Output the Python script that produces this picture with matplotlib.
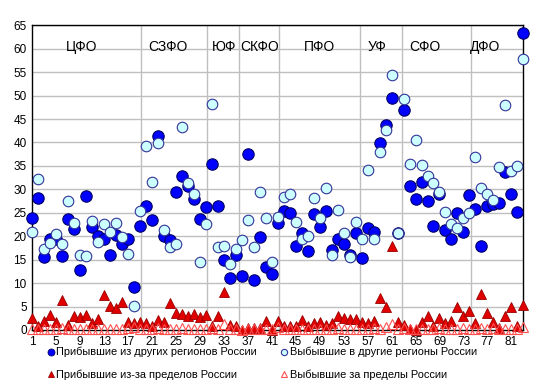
"""
Migration by region: arrivals/departures per 10 000 residents.
"""
import matplotlib.pyplot as plt
from matplotlib.lines import Line2D

plt.rcParams['font.family'] = ['Liberation Sans', 'DejaVu Sans']

regions = list(range(1, 84))

arrived_russia = [
    23.8, 28.1, 15.5, 19.4, 19.5, 15.8, 23.6, 21.5, 12.8, 28.6,
    22.0, 20.0, 19.4, 16.1, 20.2, 18.3, 19.4, 9.1, 22.2, 26.5,
    23.5, 41.4, 20.1, 19.2, 29.4, 32.8, 30.8, 27.9, 23.6, 26.2,
    35.4, 26.4, 14.9, 11.0, 16.0, 11.5, 37.5, 10.7, 19.8, 13.4,
    11.9, 22.9, 25.4, 24.9, 17.9, 20.6, 16.8, 24.7, 21.9, 25.3,
    17.1, 19.5, 18.3, 16.0, 20.6, 15.3, 21.7, 20.8, 39.9, 43.7,
    49.4, 20.6, 46.9, 30.7, 27.9, 31.6, 27.6, 22.2, 29.0, 21.3,
    19.5, 24.9, 20.8, 28.8, 25.9, 17.9, 26.4, 26.8, 27.0, 33.8,
    29.1, 25.1, 63.3,
]

left_russia = [
    20.8, 32.3, 17.2, 18.6, 20.5, 18.4, 27.5, 22.9, 16.1, 15.8,
    23.2, 18.8, 22.7, 20.8, 22.9, 19.8, 16.3, 5.2, 25.4, 39.2,
    31.5, 39.9, 21.3, 17.6, 18.3, 43.2, 31.3, 29.0, 14.4, 22.6,
    48.3, 17.6, 17.9, 14.1, 17.2, 19.2, 23.4, 17.6, 29.4, 23.8,
    14.6, 24.0, 28.4, 29.1, 23.0, 19.5, 20.0, 28.1, 23.8, 30.2,
    16.1, 25.7, 20.7, 15.6, 23.0, 19.4, 34.1, 19.4, 38.0, 42.6,
    54.4, 20.7, 49.2, 35.5, 40.5, 35.2, 32.8, 31.3, 29.5, 25.2,
    22.6, 21.7, 23.9, 25.0, 36.9, 30.2, 29.1, 27.7, 34.8, 48.1,
    34.0, 35.0, 57.9,
]

arrived_abroad = [
    2.5, 0.8, 1.9, 3.3, 1.8, 6.4, 1.1, 3.0, 2.7, 3.3,
    1.4, 2.3, 7.5, 5.2, 4.6, 6.0, 1.6, 1.4, 1.6, 1.4,
    0.9, 2.2, 1.6, 5.7, 3.7, 3.5, 2.9, 3.5, 2.8, 3.2,
    0.9, 2.9, 8.0, 1.0, 0.9, 0.0, 0.5, 0.5, 0.5, 2.0,
    0.0, 2.0, 0.8, 0.8, 0.8, 2.2, 0.8, 1.4, 1.7, 1.1,
    1.4, 2.9, 2.6, 2.3, 2.3, 1.6, 1.4, 1.9, 6.8, 4.8,
    18.0, 1.8, 1.0, 0.3, 0.1, 1.6, 3.0, 0.8, 2.5, 1.4,
    1.9, 5.0, 3.0, 4.1, 1.4, 7.6, 3.7, 1.8, 0.4, 3.0,
    5.0, 0.8, 5.3,
]

left_abroad = [
    0.2, 0.2, 0.2, 0.3, 0.2, 0.5, 0.2, 0.2, 0.2, 0.3,
    0.2, 0.2, 0.3, 0.2, 0.2, 0.3, 0.4, 0.6, 0.2, 0.3,
    0.2, 0.4, 0.2, 0.2, 0.3, 0.5, 0.2, 0.3, 0.2, 0.2,
    0.4, 0.3, 1.3, 0.2, 0.2, 0.1, 0.2, 0.2, 0.2, 0.3,
    0.2, 0.6, 0.2, 0.2, 0.2, 0.3, 0.2, 0.2, 0.3, 0.2,
    0.2, 0.4, 0.3, 0.2, 0.2, 0.3, 0.2, 0.5, 0.3, 0.6,
    1.3, 0.2, 0.4, 0.2, 0.2, 0.3, 0.2, 0.2, 0.4, 0.2,
    0.2, 0.3, 0.4, 0.2, 0.3, 0.5, 0.2, 0.4, 0.2, 0.3,
    0.2, 0.2, 0.6,
]

districts = ['ЦФО', 'СЗФО', 'ЮФ', 'СКФО', 'ПФО', 'УФ', 'СФО', 'ДФО']
district_label_x = [9.3, 23.7, 33.0, 39.0, 49.0, 58.5, 66.6, 76.6]
district_bounds = [19.1, 30.1, 35.5, 42.2, 55.8, 62.7, 74.2]

x_ticks = list(range(1, 84, 4))
y_ticks = list(range(0, 66, 5))

fig = plt.figure(figsize=(5.4, 3.89), dpi=100)
ax = fig.add_axes([0.0598, 0.1517, 0.9093, 0.7833])

# grid: horizontal every 5, vertical at district boundaries
for y in y_ticks[1:]:
    ax.axhline(y, color='#BFBFBF', lw=1.0, zorder=0)
for b in district_bounds:
    ax.axvline(b, color='#BFBFBF', lw=1.0, zorder=0)

ax.plot(regions, arrived_russia, 'o', ms=8.2, mfc='#0000FF', mec='#000066',
        mew=0.8, clip_on=False, zorder=3)
ax.plot(regions, left_russia, 'o', ms=7.6, mfc='#CCFFFF', mec='#333399',
        mew=0.8, clip_on=False, zorder=4)
ax.plot(regions, arrived_abroad, '^', ms=6.8, mfc='#E00000', mec='#990000',
        mew=0.6, clip_on=False, zorder=5)
ax.plot(regions, left_abroad, '^', ms=6.5, mfc='none', mec='#FF5050',
        mew=0.8, clip_on=False, zorder=6)

for name, xl in zip(districts, district_label_x):
    ax.text(xl, 60.3, name, ha='center', va='center', fontsize=10, color='black')

ax.set_xlim(1, 83)
ax.set_ylim(0, 65)
ax.set_xticks(x_ticks)
ax.set_yticks(y_ticks)
ax.tick_params(length=0, labelsize=8.5, pad=4)
for s in ax.spines.values():
    s.set_color('black')
    s.set_linewidth(1.0)

handles = [
    Line2D([], [], ls='none', marker='o', ms=5, mfc='#0000FF', mec='#000066', mew=0.6),
    Line2D([], [], ls='none', marker='^', ms=5, mfc='#E00000', mec='#990000', mew=0.6),
    Line2D([], [], ls='none', marker='o', ms=4.5, mfc='#CCFFFF', mec='#333399', mew=0.8),
    Line2D([], [], ls='none', marker='^', ms=5, mfc='none', mec='#FF5050', mew=0.8),
]
labels = [
    'Прибывшие из других регионов России',
    'Прибывшие из-за пределов России',
    'Выбывшие в другие регионы России',
    'Выбывшие за пределы России',
]
fig.legend(handles, labels, ncol=2, loc='upper left', bbox_to_anchor=(0.088, 0.108),
           frameon=False, fontsize=7.9, handlelength=0.6, handletextpad=0.2,
           columnspacing=2.2, labelspacing=1.1, borderaxespad=0, borderpad=0)

output_file = 'out.png'
plt.savefig(output_file, dpi=100)
plt.close()
